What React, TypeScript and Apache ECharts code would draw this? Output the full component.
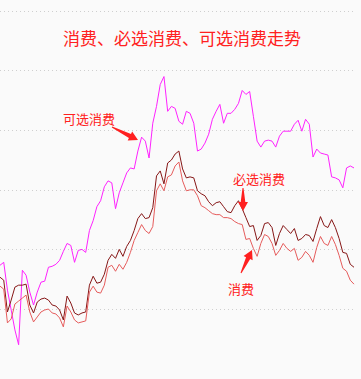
import React, { useEffect, useRef } from "react";
import * as echarts from "echarts";

const categories: string[] = Array.from({ length: 96 }, (_, i) => String(i + 1));

// 可选消费
const optionalSeries = [
  44, 47, 19, -1, -21, -36, 39, 34, 17, 4, 17, 27, 28, 42, 43, 45, 49, 58, 66, 64,
  47, 59, 60, 57, 79, 89, 103, 109, 123, 129, 127, 101, 117, 127, 137, 142, 141, 159, 173, 169,
  152, 187, 204, 226, 234, 199, 204, 202, 189, 186, 199, 197, 187, 159, 161, 167, 176, 191, 199, 206,
  187, 197, 197, 201, 207, 220, 216, 219, 194, 169, 163, 169, 170, 169, 163, 174, 179, 179, 179, 186,
  190, 179, 191, 186, 153, 161, 157, 156, 155, 133, 132, 130, 122, 142, 144, 142,
];

// 必选消费
const essentialSeries = [
  32, 29, -3, 9, 22, 24, 24, 25, 4, -4, 7, 10, 11, 9, 4, 3, -1, -11, 13, 6,
  -4, -6, -4, -3, 24, 33, 26, 27, 35, 49, 55, 51, 60, 53, 63, 69, 79, 91, 96, 91,
  92, 102, 134, 139, 126, 147, 150, 156, 159, 141, 132, 133, 132, 119, 116, 114, 108, 104, 107, 108,
  103, 98, 97, 104, 109, 101, 92, 83, 84, 69, 74, 86, 87, 82, 64, 76, 84, 80, 76, 81,
  69, 71, 75, 74, 68, 81, 93, 84, 82, 90, 82, 71, 57, 56, 45, 42,
];

// 消费
const consumerSeries = [
  23, 20, -14, -10, 5, 8, 11, 14, -3, -13, -8, -3, -1, 0, -4, -5, -9, -18, 3, -3,
  -11, -14, -13, -12, 17, 23, 17, 16, 24, 42, 44, 38, 45, 40, 47, 57, 69, 77, 85, 79,
  76, 83, 119, 126, 119, 133, 135, 144, 148, 129, 119, 120, 120, 114, 104, 102, 99, 96, 95, 95,
  92, 92, 91, 88, 86, 85, 70, 71, 61, 53, 66, 75, 73, 66, 54, 59, 66, 61, 58, 61,
  49, 52, 58, 54, 47, 62, 73, 66, 64, 73, 65, 54, 41, 38, 29, 25,
];

const titleText = "消费、必选消费、可选消费走势";
const RED = "#ff2020";
const FONT = '"Noto Sans CJK SC", "Noto Sans", sans-serif';

function arrow(x1: number, y1: number, x2: number, y2: number) {
  const dx = x2 - x1;
  const dy = y2 - y1;
  const len = Math.sqrt(dx * dx + dy * dy);
  const ux = dx / len;
  const uy = dy / len;
  const nx = -uy;
  const ny = ux;
  const headLen = 9;
  const bx = x2 - ux * headLen;
  const by = y2 - uy * headLen;
  const p = (x: number, y: number, w: number) => [x + nx * w, y + ny * w];
  return {
    type: "polygon",
    shape: {
      points: [
        p(x1, y1, 0.5),
        p(bx, by, 2.3),
        p(bx, by, 5),
        [x2, y2],
        p(bx, by, -5),
        p(bx, by, -2.3),
        p(x1, y1, -0.5),
      ],
    },
    style: { fill: RED },
    z: 100,
  };
}

function label(text: string, x: number, y: number) {
  return {
    type: "text",
    x,
    y,
    z: 100,
    style: {
      text,
      fill: RED,
      font: `13px ${FONT}`,
      align: "left",
      verticalAlign: "middle",
    },
  };
}

export default function App() {
  const ref = useRef<HTMLDivElement>(null);
  useEffect(() => {
    if (!ref.current) return;
    const chart = echarts.init(ref.current, null, { renderer: "svg" });
    const line = (name: string, data: number[], color: string) => ({
      name,
      type: "line",
      data,
      symbol: "none",
      clip: false,
      lineStyle: { width: 1, color },
      itemStyle: { color },
    });
    chart.setOption({
      animation: false,
      backgroundColor: "#fafafa",
      title: {
        text: titleText,
        left: 63,
        top: 29,
        padding: 0,
        textStyle: { color: RED, fontSize: 17, fontWeight: "normal", fontFamily: FONT },
      },
      grid: { left: 0, right: 7, top: 11, bottom: 70, containLabel: false },
      xAxis: {
        type: "category",
        data: categories,
        boundaryGap: false,
        show: false,
      },
      yAxis: {
        type: "value",
        min: 0,
        max: 300,
        interval: 60,
        axisLine: { show: false },
        axisTick: { show: false },
        axisLabel: { show: false },
        splitLine: { show: true, lineStyle: { color: "#cfcfcf", type: [1, 3], width: 1 } },
      },
      series: [
        line("可选消费", optionalSeries, "#ff22ff"),
        line("必选消费", essentialSeries, "#861616"),
        line("消费", consumerSeries, "#e65c5c"),
      ],
      graphic: [
        label("可选消费", 63, 118),
        label("必选消费", 233, 178),
        label("消费", 228, 288),
        arrow(112, 127, 138, 140),
        arrow(243, 188, 243, 211),
        arrow(241, 273, 252, 250),
      ],
    });
    return () => chart.dispose();
  }, []);
  return (
    <div
      ref={ref}
      style={{ position: "fixed", left: 0, top: 0, width: 361, height: 379 }}
    />
  );
}
